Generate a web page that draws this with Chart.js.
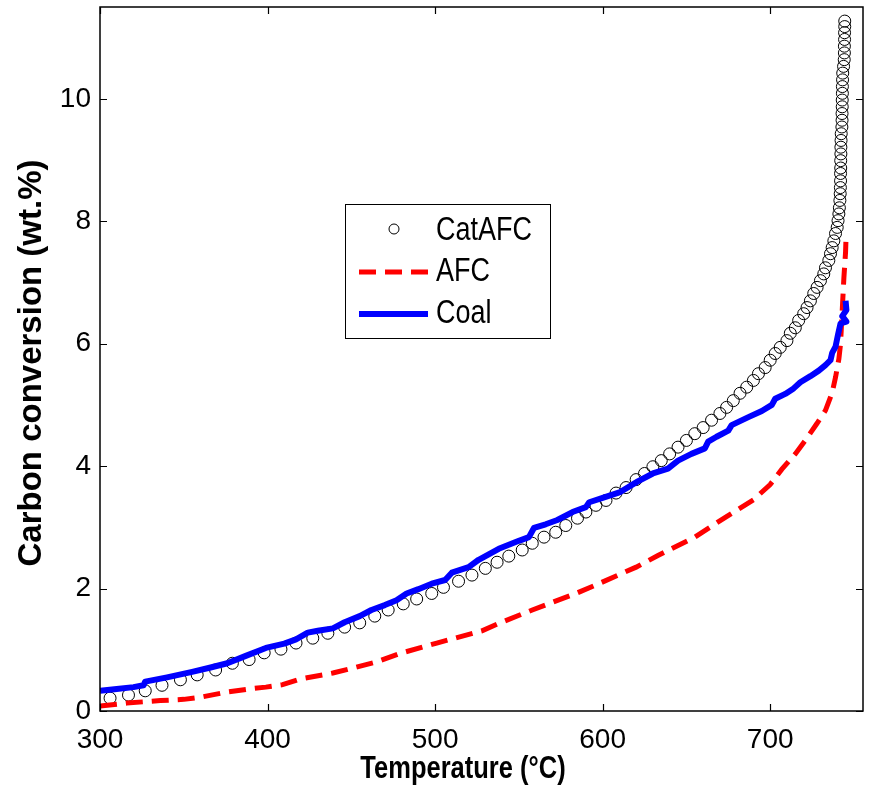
<!DOCTYPE html>
<html>
<head>
<meta charset="utf-8">
<script src="https://cdn.jsdelivr.net/npm/chart.js@4.4.1/dist/chart.umd.min.js"></script>
<style>
  html, body { margin: 0; padding: 0; background: #fff; }
  #wrap { width: 870px; height: 793px; }
</style>
</head>
<body>
<div id="wrap"><canvas id="conv" width="870" height="793"></canvas></div>
<script>
// data
const xTicks = [300, 400, 500, 600, 700];
const yTicks = [0, 2, 4, 6, 8, 10];

const catT = [306, 317, 327, 337, 348, 358, 369, 379, 389, 398, 408, 417, 427, 436, 446, 455, 464, 472, 481, 489,
  498, 505, 514, 522, 530, 537, 544, 552, 558, 565, 572, 578, 585, 590, 596, 602, 608, 614, 620, 625,
  630, 635, 640, 645, 650, 655, 660, 665, 670, 674, 678, 682, 686, 690, 693, 697, 700, 703, 706, 710,
  712, 715, 717, 720, 722, 724, 726, 728, 730, 732, 733, 735, 736, 737, 738, 739, 740, 740.5, 741, 741.3,
  741.6, 741.8, 741.9, 742.0, 742.0, 742.1, 742.1, 742.2, 742.2, 742.3, 742.4, 742.8, 742.9, 742.9, 743.0, 743.0,
  743.1, 743.1, 743.2, 743.3, 743.8, 744.2, 744.3, 744.3, 744.4, 744.4, 744.5, 744.5];
const catY = [0.21, 0.26, 0.33, 0.42, 0.51, 0.59, 0.67, 0.78, 0.84, 0.95, 1.01, 1.11, 1.19, 1.27, 1.37, 1.44, 1.55, 1.65, 1.75, 1.83,
  1.92, 2.02, 2.12, 2.22, 2.33, 2.43, 2.53, 2.63, 2.74, 2.84, 2.92, 3.03, 3.15, 3.25, 3.36, 3.44, 3.56, 3.65, 3.78, 3.88,
  3.99, 4.09, 4.20, 4.31, 4.42, 4.53, 4.63, 4.75, 4.86, 4.96, 5.07, 5.19, 5.29, 5.40, 5.51, 5.61, 5.73, 5.84, 5.94, 6.05,
  6.17, 6.26, 6.38, 6.49, 6.59, 6.70, 6.82, 6.92, 7.03, 7.14, 7.24, 7.36, 7.47, 7.57, 7.68, 7.80, 7.90, 8.01, 8.12, 8.22,
  8.34, 8.45, 8.55, 8.66, 8.78, 8.87, 8.99, 9.10, 9.21, 9.32, 9.43, 9.54, 9.65, 9.76, 9.87, 9.98,
  10.09, 10.20, 10.31, 10.42, 10.53, 10.64, 10.75, 10.86, 10.97, 11.08, 11.18, 11.27];

const afcT = [300, 316, 336, 350, 361, 376, 389, 399, 409, 419, 439, 465, 479, 501, 528, 538, 558, 584, 596, 620,
  633, 655, 673, 690, 700, 707, 715, 721, 728, 733, 737, 739, 741, 742, 743, 744, 745, 745.3];
const afcY = [0.08, 0.13, 0.17, 0.19, 0.23, 0.31, 0.36, 0.39, 0.43, 0.52, 0.62, 0.80, 0.94, 1.11, 1.31, 1.43, 1.65, 1.92, 2.06, 2.35,
  2.54, 2.84, 3.16, 3.45, 3.70, 3.95, 4.20, 4.42, 4.70, 4.91, 5.20, 5.45, 5.75, 6.00, 6.54, 7.08, 7.50, 7.76];

const coalT = [300, 310, 320, 326, 327, 340, 355, 366, 376, 387, 399, 410, 417, 424, 430, 439, 446, 455, 462, 470,
  477, 483, 490, 498, 506, 510, 520, 526, 538, 550, 556, 559, 566, 573, 582, 590, 592, 600, 610, 621,
  630, 639, 645, 653, 661, 663, 668, 675, 677, 687, 695, 701, 703, 709, 714, 718, 724, 729, 733, 736,
  737, 739, 740.5, 742, 745.5, 743, 745.5, 745];
const coalY = [0.33, 0.36, 0.39, 0.42, 0.48, 0.55, 0.64, 0.71, 0.78, 0.90, 1.03, 1.10, 1.17, 1.28, 1.31, 1.35, 1.45, 1.55, 1.65, 1.73,
  1.81, 1.92, 1.99, 2.08, 2.14, 2.26, 2.35, 2.47, 2.65, 2.78, 2.84, 2.99, 3.05, 3.12, 3.25, 3.33, 3.41, 3.48, 3.57, 3.75,
  3.88, 3.96, 4.09, 4.20, 4.29, 4.40, 4.48, 4.58, 4.67, 4.80, 4.90, 5.00, 5.10, 5.18, 5.27, 5.37, 5.47, 5.56, 5.65, 5.73,
  5.85, 5.95, 6.15, 6.33, 6.36, 6.45, 6.55, 6.70];

const pts = (xs, ys) => xs.map((x, i) => ({ x: x, y: ys[i] }));
const FONT = '"Liberation Sans", Arial, Helvetica, sans-serif';

// box, inward ticks, axis titles, legend
const frame = {
  id: 'frame',
  afterDraw(chart) {
    const ctx = chart.ctx;
    const a = chart.chartArea;
    const xs = chart.scales.x, ys = chart.scales.y;
    ctx.save();
    ctx.strokeStyle = '#000';
    ctx.lineWidth = 1.5;
    ctx.strokeRect(a.left, a.top, a.right - a.left, a.bottom - a.top);
    ctx.lineWidth = 1.2;
    ctx.beginPath();
    xTicks.forEach(v => {
      const px = Math.round(xs.getPixelForValue(v)) + 0.5;
      ctx.moveTo(px, a.bottom); ctx.lineTo(px, a.bottom - 7);
      ctx.moveTo(px, a.top); ctx.lineTo(px, a.top + 7);
    });
    yTicks.forEach(v => {
      const py = Math.round(ys.getPixelForValue(v)) + 0.5;
      ctx.moveTo(a.left, py); ctx.lineTo(a.left + 7, py);
      ctx.moveTo(a.right, py); ctx.lineTo(a.right - 7, py);
    });
    ctx.stroke();

    // axis titles
    ctx.fillStyle = '#000';
    ctx.textAlign = 'center';
    ctx.textBaseline = 'middle';
    ctx.save();
    ctx.translate(463, 770);
    ctx.scale(1, 1.2);
    ctx.font = 'bold 25.5px ' + FONT;
    ctx.fillText('Temperature (°C)', 0, 0);
    ctx.restore();
    ctx.save();
    ctx.translate(32, 363);
    ctx.rotate(-Math.PI / 2);
    ctx.font = 'bold 33px ' + FONT;
    ctx.fillText('Carbon conversion (wt.%)', 0, 0);
    ctx.restore();

    // legend
    const lx = 345, ly = 204, lw = 205, lh = 134;
    ctx.fillStyle = '#fff';
    ctx.fillRect(lx, ly, lw, lh);
    ctx.strokeStyle = '#000';
    ctx.lineWidth = 1;
    ctx.strokeRect(lx + 0.5, ly + 0.5, lw, lh);
    const rows = [231, 272, 314];
    chart.data.datasets.forEach((ds, i) => {
      const y = rows[i];
      ctx.save();
      if (ds.showLine === false) {
        ctx.beginPath();
        ctx.arc(394, y - 2, 5, 0, Math.PI * 2);
        ctx.lineWidth = 1;
        ctx.strokeStyle = ds.borderColor;
        ctx.stroke();
      } else {
        ctx.beginPath();
        ctx.moveTo(359, y); ctx.lineTo(428, y);
        ctx.lineWidth = ds.borderWidth;
        ctx.strokeStyle = ds.borderColor;
        ctx.setLineDash(ds.borderDash || []);
        ctx.stroke();
      }
      ctx.restore();
      ctx.save();
      ctx.fillStyle = '#000';
      ctx.textAlign = 'left';
      ctx.textBaseline = 'middle';
      ctx.font = '27px ' + FONT;
      ctx.translate(436, y);
      ctx.scale(1, 1.2);
      ctx.fillText(ds.label, 0, 0);
      ctx.restore();
    });
    ctx.restore();
  }
};

new Chart(document.getElementById('conv'), {
  type: 'line',
  data: {
    datasets: [
      {
        label: 'CatAFC',
        data: pts(catT, catY),
        showLine: false,
        pointStyle: 'circle',
        pointRadius: 6,
        pointBorderWidth: 1,
        borderColor: '#000',
        pointBorderColor: '#000',
        backgroundColor: 'rgba(0,0,0,0)',
        pointBackgroundColor: 'rgba(0,0,0,0)',
        order: 3
      },
      {
        label: 'AFC',
        data: pts(afcT, afcY),
        borderColor: '#ff0000',
        borderWidth: 5,
        borderDash: [17, 9],
        pointRadius: 0,
        tension: 0,
        order: 2
      },
      {
        label: 'Coal',
        data: pts(coalT, coalY),
        borderColor: '#0000ff',
        borderWidth: 6,
        borderJoinStyle: 'round',
        pointRadius: 0,
        tension: 0,
        order: 1
      }
    ]
  },
  options: {
    responsive: false,
    animation: false,
    devicePixelRatio: 1,
    layout: { padding: { top: 6, right: 5, left: 0, bottom: 0 } },
    plugins: { legend: { display: false }, tooltip: { enabled: false } },
    scales: {
      x: {
        type: 'linear',
        min: 300,
        max: 755.4,
        grid: { display: false, drawTicks: false },
        border: { display: false },
        afterBuildTicks: s => { s.ticks = xTicks.map(v => ({ value: v })); },
        afterFit: s => { s.height = 82; s.paddingLeft = 0; s.paddingRight = 0; },
        ticks: { color: '#000', padding: 12, maxRotation: 0, font: { family: FONT, size: 28 } }
      },
      y: {
        type: 'linear',
        min: 0,
        max: 11.5,
        grid: { display: false, drawTicks: false },
        border: { display: false },
        afterBuildTicks: s => { s.ticks = yTicks.map(v => ({ value: v })); },
        afterFit: s => { s.width = 100; s.paddingTop = 0; s.paddingBottom = 0; },
        ticks: { color: '#000', padding: 9, font: { family: FONT, size: 28 } }
      }
    }
  },
  plugins: [frame]
});
</script>
</body>
</html>
